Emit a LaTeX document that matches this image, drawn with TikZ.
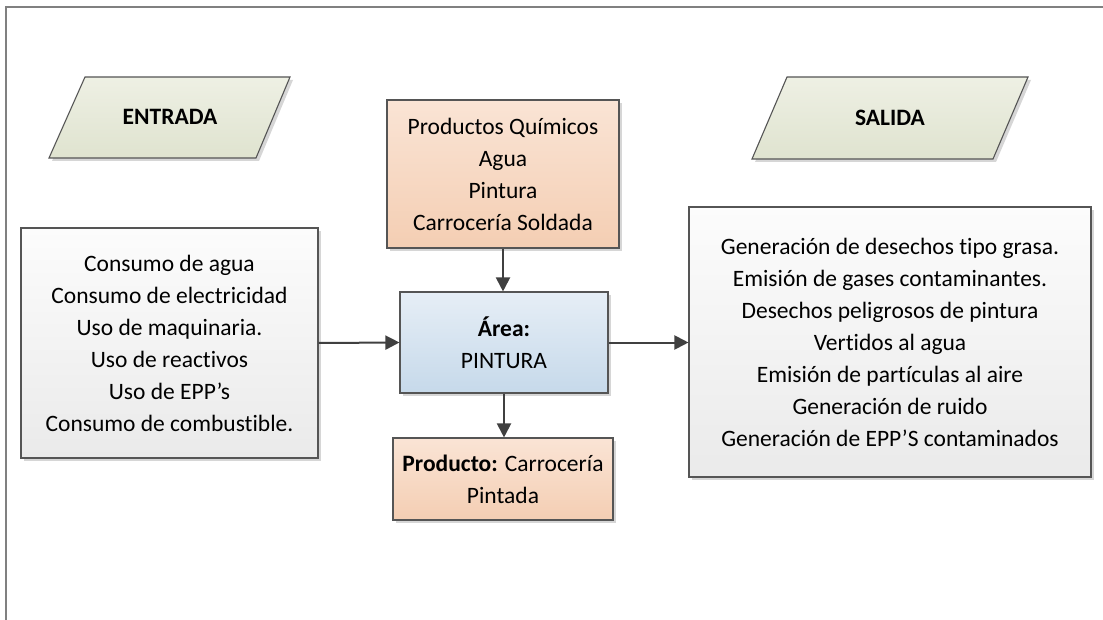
\documentclass[tikz,border=0pt]{standalone}
\usepackage{fontspec}
\setmainfont{Carlito}[Ligatures=NoCommon]
\usetikzlibrary{arrows.meta,shadows}
\definecolor{bordc}{HTML}{555555}
\definecolor{arrc}{HTML}{404040}
\definecolor{framec}{HTML}{808080}
\definecolor{shadc}{HTML}{D6D6D6}
\definecolor{grtop}{HTML}{EEF0E4}
\definecolor{grbot}{HTML}{DFE3CF}
\definecolor{ortop}{HTML}{FAE4D5}
\definecolor{orbot}{HTML}{F4CEB3}
\definecolor{bltop}{HTML}{E6EEF6}
\definecolor{blbot}{HTML}{C6D9EA}
\definecolor{gytop}{HTML}{FCFCFC}
\definecolor{gybot}{HTML}{EAEAEA}
\begin{document}
\begin{tikzpicture}[x=1pt,y=-1pt,
  txt/.style={font=\fontsize{23.5}{32}\selectfont, align=center, text=black},
  boxbase/.style={txt, draw=bordc, line width=1.1pt, inner sep=0pt,
    drop shadow={shadow xshift=3pt, shadow yshift=-3pt, fill=shadc, opacity=1}},
  graybox/.style={boxbase, top color=gytop, bottom color=gybot},
  orbox/.style={boxbase, top color=ortop, bottom color=orbot},
  blbox/.style={boxbase, top color=bltop, bottom color=blbot},
  para/.style={draw=bordc, line width=1.1pt, top color=grtop, bottom color=grbot},
  parashadow/.style={fill=shadc, draw=none},
  conn/.style={draw=arrc, line width=2pt, -{Triangle[length=14pt,width=14pt]}}
]
\useasboundingbox (0,0) rectangle (1103,620);
% frame (cropped)
\draw[framec, line width=1.4pt] (6,620) -- (6,7) -- (1103,7);

% parallelograms
\fill[parashadow] (88,80) -- (293,80) -- (259,161) -- (52,161) -- cycle;
\path[para] (85,77) -- (290,77) -- (256,158) -- (49,158) -- cycle;
\node[txt, font=\fontsize{23.5}{32}\selectfont\bfseries] (entrada) at (170,117) {ENTRADA};

\fill[parashadow] (790,80) -- (1031,80) -- (996,162) -- (755,162) -- cycle;
\path[para] (787,77) -- (1028,77) -- (993,159) -- (752,159) -- cycle;
\node[txt, font=\fontsize{23.5}{32}\selectfont\bfseries] (salida) at (890,118) {SALIDA};

% boxes
\node[graybox, minimum width=297pt, minimum height=230pt] (inbox) at (169.5,343)
  {Consumo de agua\\Consumo de electricidad\\Uso de maquinaria.\\Uso de reactivos\\Uso de EPP’s\\Consumo de combustible.};

\node[orbox, minimum width=232pt, minimum height=148pt] (prod) at (503,174)
  {Productos Químicos\\Agua\\Pintura\\Carrocería Soldada};

\node[blbox, minimum width=208pt, minimum height=101pt] (area) at (504,342.5)
  {\textbf{Área:}\\PINTURA};

\node[orbox, minimum width=220pt, minimum height=82pt] (result) at (503,479)
  {\textbf{Producto:} Carrocería\\Pintada};

\node[graybox, minimum width=402pt, minimum height=270pt] (outbox) at (890,342)
  {Generación de desechos tipo grasa.\\Emisión de gases contaminantes.\\Desechos peligrosos de pintura\\Vertidos al agua\\Emisión de partículas al aire\\Generación de ruido\\Generación de EPP’S contaminados};

% connectors
\draw[conn] (inbox.east) -- (area.west);
\draw[conn] (area.east) -- (area.east -| outbox.west);
\draw[conn] (prod.south) -- (prod.south |- area.north);
\draw[conn] (area.south) -- (area.south |- result.north);
\end{tikzpicture}
\end{document}
